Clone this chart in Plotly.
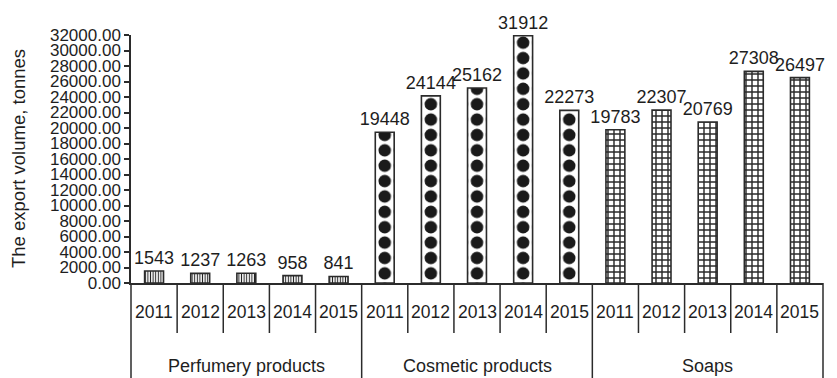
import plotly.graph_objects as go

# Export volumes (tonnes) by product group and year
years = ["2011", "2012", "2013", "2014", "2015"]
groups = ["Perfumery products", "Cosmetic products", "Soaps"]
perfumery = [1543, 1237, 1263, 958, 841]
cosmetic = [19448, 24144, 25162, 31912, 22273]
soaps = [19783, 22307, 20769, 27308, 26497]

series = [perfumery, cosmetic, soaps]

W, H = 837, 378
ML, MR, MT, MB = 131, 14, 35, 95
plot_w = W - ML - MR
plot_h = H - MT - MB
n_cat = len(groups) * len(years)
slot = plot_w / n_cat

FONT = "Liberation Sans, Arial, sans-serif"
INK = "#2b2b2b"
TXT = "#1e1e1e"

patterns = [
    dict(shape="|", size=2.6, solidity=0.4, fgcolor="#222222", bgcolor="white",
         fillmode="overlay", fgopacity=1),
    dict(shape=".", size=slot / 3, solidity=0.52, fgcolor="#1a1a1a", bgcolor="white",
         fillmode="overlay", fgopacity=1),
    dict(shape="+", size=6, solidity=0.42, fgcolor="#2a2a2a", bgcolor="white",
         fillmode="overlay", fgopacity=1),
]

fig = go.Figure()
for g, (name, vals) in enumerate(zip(groups, series)):
    xs = [g * len(years) + j for j in range(len(years))]
    fig.add_trace(go.Bar(
        x=xs, y=vals, name=name, width=0.41,
        marker=dict(color="white", line=dict(color=INK, width=1.6), pattern=patterns[g]),
        text=[str(v) for v in vals], textposition="outside",
        textfont=dict(family=FONT, size=18, color=TXT),
        constraintext="none", cliponaxis=False, showlegend=False,
    ))

# Category axis: year row, group row and separator lines
shapes = []
for i in range(n_cat + 1):
    outer = i % len(years) == 0
    shapes.append(dict(
        type="line", xref="paper", yref="paper",
        x0=i / n_cat, x1=i / n_cat, y0=0,
        y1=-(MB + 5) / plot_h if outer else -50 / plot_h,
        line=dict(color=INK, width=1.5),
    ))

annotations = []
for g, name in enumerate(groups):
    for j, yr in enumerate(years):
        annotations.append(dict(
            x=g * len(years) + j, y=-29 / plot_h, xref="x", yref="paper",
            text=yr, showarrow=False, yanchor="middle", xanchor="center",
            font=dict(family=FONT, size=17.5, color=TXT),
        ))
    annotations.append(dict(
        x=g * len(years) + (len(years) - 1) / 2, y=-83 / plot_h, xref="x", yref="paper",
        text=name, showarrow=False, yanchor="middle", xanchor="center",
        font=dict(family=FONT, size=18, color=TXT),
    ))
annotations.append(dict(
    x=(18 - ML) / plot_w, y=0.5, xref="paper", yref="paper",
    text="The export volume, tonnes", textangle=-90, showarrow=False,
    xanchor="center", yanchor="middle",
    font=dict(family=FONT, size=18.5, color=TXT),
))

fig.update_layout(
    width=W, height=H,
    margin=dict(l=ML, r=MR, t=MT, b=MB, autoexpand=False),
    paper_bgcolor="white", plot_bgcolor="white",
    barmode="overlay",
    shapes=shapes, annotations=annotations,
    xaxis=dict(range=[-0.5, n_cat - 0.5], showticklabels=False, ticks="",
               showgrid=False, zeroline=False, showline=True,
               linecolor=INK, linewidth=1.5, fixedrange=True),
    yaxis=dict(range=[0, 32000], dtick=2000, tickformat=".2f",
               ticks="outside", ticklen=5, tickwidth=1.5, tickcolor=INK,
               showgrid=False, zeroline=False, showline=True,
               linecolor=INK, linewidth=1.5,
               tickfont=dict(family=FONT, size=17, color=TXT)),
)

fig.write_html("out.html")
